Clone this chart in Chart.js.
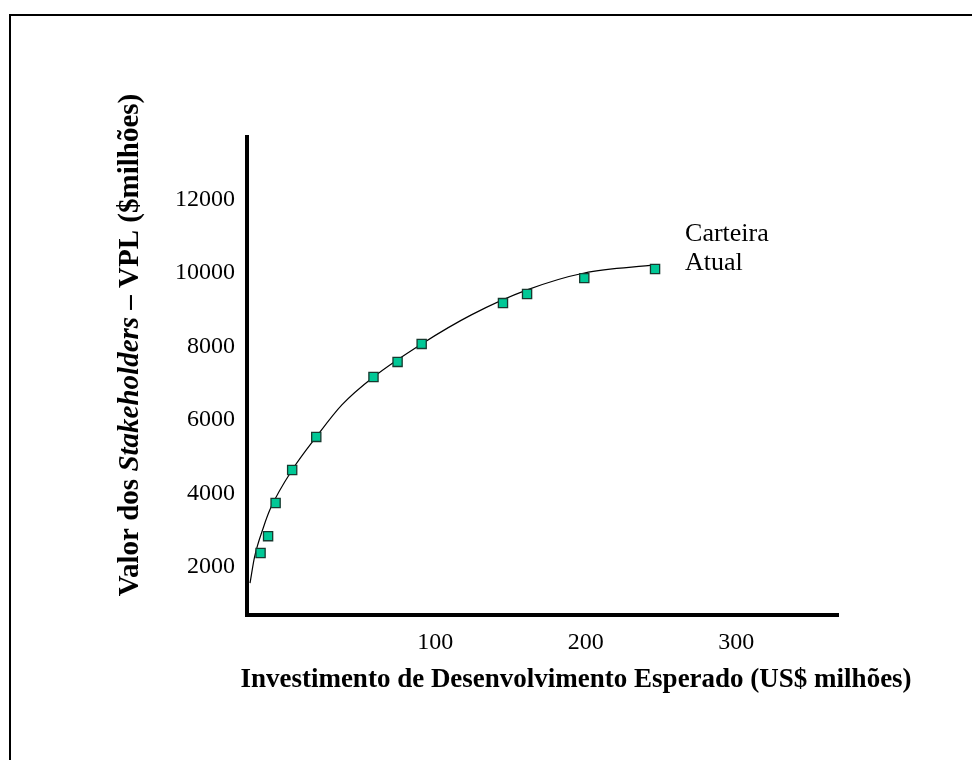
<!DOCTYPE html>
<html>
<head>
<meta charset="utf-8">
<script src="https://cdn.jsdelivr.net/npm/chart.js@4.4.0/dist/chart.umd.min.js"></script>
<style>
  body { margin: 0; background: #fff; }
  #wrap { width: 972px; height: 760px; }
</style>
</head>
<body>
<div id="wrap"><canvas id="frontier" width="972" height="760"></canvas></div>
<script>
// Projects: investment (US$ milhoes) and NPV ($milhoes)
var investX = [-16, -11, -6, 5, 21, 59, 75, 91, 145, 161, 199, 246];
var vplY = [2380, 2840, 3740, 4640, 5540, 7170, 7580, 8070, 9180, 9430, 9860, 10110];

// Fitted frontier curve
var curveX = [-23, -20, -14, -9, 5, 21, 38, 59, 91, 124, 161, 199, 246];
var curveY = [1560, 2270, 3090, 3630, 4640, 5540, 6410, 7170, 8070, 8860, 9540, 10000, 10220];

var xTicks = [100, 200, 300];
var yTicks = [2000, 4000, 6000, 8000, 10000, 12000];

var serif = "'Liberation Serif', 'Times New Roman', serif";

var ctx = document.getElementById('frontier').getContext('2d');

// frame, axis titles and the "Carteira Atual" note
var extras = {
    id: 'extras',
    afterDraw: function (chart) {
        var c = chart.ctx;
        c.save();
        c.strokeStyle = '#000';
        c.lineWidth = 2;
        c.beginPath();
        c.moveTo(10, 760);
        c.lineTo(10, 15);
        c.lineTo(972, 15);
        c.stroke();

        c.fillStyle = '#000';
        c.textBaseline = 'middle';

        // y title with italic word
        var parts = [
            ['bold 29px ' + serif, 'Valor dos '],
            ['italic bold 29px ' + serif, 'Stakeholders'],
            ['bold 29px ' + serif, ' \u2013 VPL ($milh\u00f5es)']
        ];
        var total = 0;
        parts.forEach(function (p) { c.font = p[0]; total += c.measureText(p[1]).width; });
        c.translate(131, 345);
        c.rotate(-Math.PI / 2);
        var pos = -total / 2;
        c.textAlign = 'left';
        parts.forEach(function (p) {
            c.font = p[0];
            c.fillText(p[1], pos, 0);
            pos += c.measureText(p[1]).width;
        });
        c.setTransform(1, 0, 0, 1, 0, 0);

        // x title
        c.font = 'bold 27px ' + serif;
        c.textAlign = 'center';
        c.fillText('Investimento de Desenvolvimento Esperado (US$ milh\u00f5es)', 576, 680);

        // label next to the last point
        var xs = chart.scales.x, ys = chart.scales.y;
        var last = investX.length - 1;
        c.font = '26px ' + serif;
        c.textAlign = 'left';
        c.fillText('Carteira', xs.getPixelForValue(investX[last]) + 30, ys.getPixelForValue(vplY[last]) - 35);
        c.fillText('Atual', xs.getPixelForValue(investX[last]) + 30, ys.getPixelForValue(vplY[last]) - 6);
        c.restore();
    }
};

var frontierChart = new Chart(ctx, {
    type: 'scatter',
    data: {
        datasets: [{
            label: 'Projetos',
            data: investX.map(function (x, i) { return {x: x, y: vplY[i]}; }),
            pointStyle: 'rect',
            pointRadius: 6.5,
            backgroundColor: '#00c896',
            borderColor: '#17392f',
            borderWidth: 1.3,
            showLine: false
        }, {
            label: 'Fronteira',
            data: curveX.map(function (x, i) { return {x: x, y: curveY[i]}; }),
            showLine: true,
            pointRadius: 0,
            borderColor: '#000',
            borderWidth: 1.2,
            cubicInterpolationMode: 'monotone'
        }]
    },
    options: {
        responsive: false,
        animation: false,
        layout: {
            padding: {left: 0, top: 137, right: 134, bottom: 0}
        },
        plugins: {
            legend: {display: false},
            tooltip: {enabled: false}
        },
        scales: {
            x: {
                type: 'linear',
                min: -25,
                max: 367.5,
                grid: {display: false},
                border: {display: true, color: '#000', width: 4},
                afterBuildTicks: function (scale) {
                    scale.ticks = xTicks.map(function (v) { return {value: v}; });
                },
                afterFit: function (scale) { scale.height = 145; },
                ticks: {
                    color: '#000',
                    padding: 5,
                    maxRotation: 0,
                    font: {family: serif, size: 24}
                }
            },
            y: {
                type: 'linear',
                min: 694,
                max: 13700,
                grid: {display: false},
                border: {display: true, color: '#000', width: 4},
                afterBuildTicks: function (scale) {
                    scale.ticks = yTicks.map(function (v) { return {value: v}; });
                },
                afterFit: function (scale) { scale.width = 247; },
                ticks: {
                    color: '#000',
                    padding: 4,
                    font: {family: serif, size: 24},
                    callback: function (v) { return String(v); }
                }
            }
        }
    },
    plugins: [extras]
});
</script>
</body>
</html>
